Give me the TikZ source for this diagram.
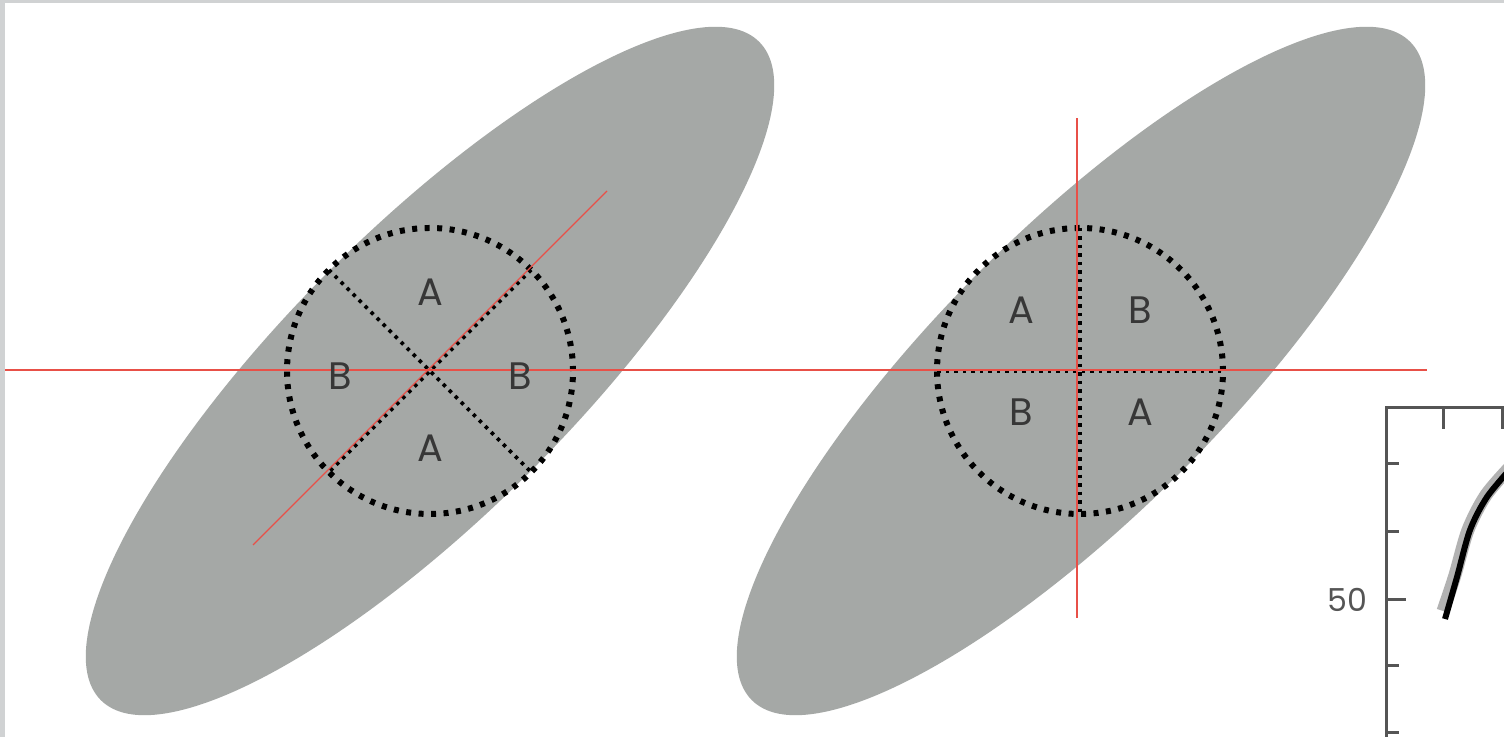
\documentclass[tikz,border=0pt]{standalone}
\usepackage{fontspec}
\setmainfont{Poppins}
\usepackage{tikz}
\usetikzlibrary{positioning, calc}

\definecolor{blobgray}{RGB}{165,168,166}
\definecolor{framegray}{RGB}{208,210,211}
\definecolor{redline}{RGB}{232,80,72}
\definecolor{txtgray}{RGB}{55,55,55}
\definecolor{axisgray}{RGB}{85,85,85}

\begin{document}
\begin{tikzpicture}[
  blob/.style={fill=blobgray},
  ring/.style={draw=black, line width=0.06cm, dash pattern=on 0.05cm off 0.075cm},
  split/.style={draw=black, line width=0.037cm, dash pattern=on 0.035cm off 0.05cm},
  redl/.style={draw=redline, line width=0.012cm},
  lbl/.style={font=\fontsize{10.9}{12}\selectfont, text=txtgray},
  axis/.style={draw=axisgray, line width=0.03cm},
]

% === frame ===
\fill[framegray] (0,0) rectangle (15.04,7.37);
\fill[white] (0.05,0) rectangle (15.04,7.34);
\useasboundingbox (0,0) rectangle (15.04,7.37);
\clip (0,0) rectangle (15.04,7.37);

\coordinate (lc) at (4.30,3.66);
\coordinate (rc) at (10.81,3.66);

% === ellipses ===
\fill[blob, rotate around={45:(lc)}] (lc) ellipse (4.655 and 1.42);
\fill[blob, rotate around={45:(rc)}] (rc) ellipse (4.655 and 1.42);

% === left circle ===
\draw[split] (lc) ++(45:1.43) -- ++(225:2.86);
\draw[split] (lc) ++(135:1.43) -- ++(315:2.86);
\draw[ring] (lc) circle (1.43);

% === right circle ===
\coordinate (rcc) at (10.80,3.66);
\draw[split] (rcc) ++(0,1.43) -- ++(0,-2.88);
\draw[split] (rcc) ++(-1.43,0) -- ++(2.86,0);
\draw[ring] (rcc) circle (1.43);

% === red lines ===
\coordinate (hl) at (0.05,3.67);
\coordinate (hr) at (14.27,3.67);
\coordinate (dl) at (2.53,1.92);
\coordinate (du) at (6.07,5.46);
\coordinate (vb) at (10.77,1.19);
\coordinate (vt) at (10.77,6.19);
\draw[redl] (hl) -- (hr);
\draw[redl] (dl) -- (du);
\draw[redl] (vb) -- (vt);

% === labels ===
\node[lbl] (lA1) at (4.30,4.45) {A};
\node[lbl] (lB1) at (3.40,3.61) {B};
\node[lbl] (lB2) at (5.20,3.61) {B};
\node[lbl] (lA2) at (4.30,2.89) {A};

\node[lbl] (rA1) at (10.21,4.27) {A};
\node[lbl] (rB1) at (11.40,4.27) {B};
\node[lbl] (rB2) at (10.21,3.25) {B};
\node[lbl] (rA2) at (11.40,3.25) {A};

% === plot corner ===
\draw[axis] (15.10,3.29) -- (13.86,3.29) -- (13.86,-0.1);
\foreach \x in {14.43,15.02}
  \draw[axis] (\x,3.29) -- (\x,3.08);
\foreach \y in {2.73,2.05,0.71,0.04}
  \draw[axis] (13.86,\y) -- (13.99,\y);
\draw[axis] (13.86,1.37) -- (14.06,1.37);
\node[font=\fontsize{9}{10}\selectfont, text=axisgray] (tick50) at (13.47,1.37) {50};

\draw[black!30, line width=0.13cm]
  plot[smooth] coordinates {(14.43,1.26) (14.55,1.62) (14.68,2.07) (14.86,2.42) (15.12,2.72)};
\draw[black, line width=0.06cm]
  plot[smooth] coordinates {(14.45,1.18) (14.57,1.60) (14.70,2.07) (14.87,2.40) (15.12,2.70)};

\end{tikzpicture}
\end{document}
